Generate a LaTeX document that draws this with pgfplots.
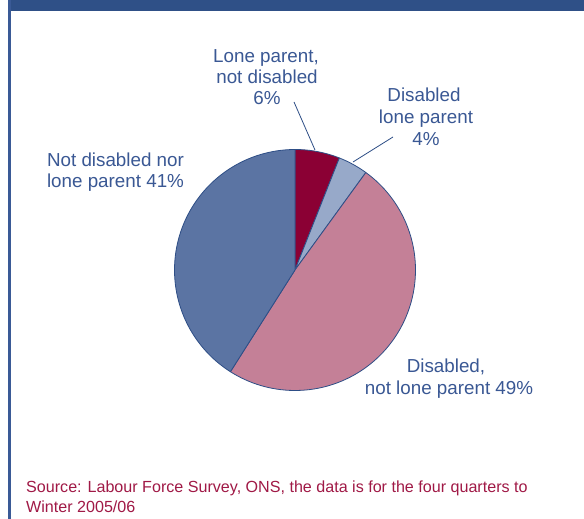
\documentclass[border=0pt]{standalone}
\usepackage{fontspec}
\setmainfont{Liberation Sans}
\usepackage{pgfplots}
\pgfplotsset{compat=1.18}
\definecolor{barblue}{RGB}{47,80,135}
\definecolor{sideblue}{RGB}{58,90,150}
\definecolor{txtblue}{RGB}{58,88,148}
\definecolor{srcred}{RGB}{160,25,70}
\definecolor{edgeblue}{RGB}{46,78,134}
\definecolor{cRed}{RGB}{139,0,52}
\definecolor{cLight}{RGB}{151,169,201}
\definecolor{cPink}{RGB}{196,128,151}
\definecolor{cBlue}{RGB}{91,116,163}
% shares (per cent), clockwise from 12 o'clock
\def\pA{6}\def\pB{4}\def\pC{49}\def\pD{41}
\pgfmathsetmacro{\aZero}{90}
\pgfmathsetmacro{\aA}{90-3.6*\pA}
\pgfmathsetmacro{\aB}{\aA-3.6*\pB}
\pgfmathsetmacro{\aC}{\aB-3.6*\pC}
\pgfmathsetmacro{\aD}{\aC-3.6*\pD}
\newcommand{\slice}[3]{%
  \addplot[fill=#3, draw=edgeblue, line width=0.8pt, line join=round,
    domain=#1:#2, samples=90, mark=none]
    ({295+120.5*cos(x)},{249+120.5*sin(x)}) -- (axis cs:295,249) -- cycle;}
\begin{document}
\begin{tikzpicture}
\begin{axis}[width=584pt,height=519pt,scale only axis,
  xmin=0,xmax=584,ymin=0,ymax=519,hide axis,clip=false]
\fill[white] (axis cs:0,0) rectangle (axis cs:584,519);
\fill[barblue] (axis cs:8,508.3) rectangle (axis cs:584,519);
\fill[sideblue] (axis cs:8,0) rectangle (axis cs:11.2,519);
\slice{\aA}{\aZero}{cRed}
\slice{\aB}{\aA}{cLight}
\slice{\aC}{\aB}{cPink}
\slice{\aD}{\aC}{cBlue}
% leader lines
\addplot[edgeblue, line width=0.8pt, mark=none] coordinates {(294,417) (315,369)};
\addplot[edgeblue, line width=0.8pt, mark=none] coordinates {(393,382) (353,357)};
% labels
\begin{scope}[every node/.style={text=txtblue, font=\fontsize{18.8}{21}\selectfont, inner sep=0pt, anchor=base}]
\node at (axis cs:266,456) {Lone parent,};
\node at (axis cs:267,435) {not disabled};
\node at (axis cs:267,414) {6\%};
\node at (axis cs:424,417) {Disabled};
\node at (axis cs:426,395) {lone parent};
\node at (axis cs:426,373) {4\%};
\node at (axis cs:115.5,352) {Not disabled nor};
\node at (axis cs:115.5,331) {lone parent 41\%};
\node at (axis cs:446,146) {Disabled,};
\node at (axis cs:449,124) {not lone parent 49\%};
\end{scope}
\begin{scope}[every node/.style={text=srcred, font=\fontsize{16.1}{20}\selectfont, inner sep=0pt, anchor=base west}]
\node at (axis cs:26,26) {Source: Labour Force Survey, ONS, the data is for the four quarters to};
\node at (axis cs:26,6) {Winter 2005/06};
\end{scope}
\end{axis}
\end{tikzpicture}
\end{document}
